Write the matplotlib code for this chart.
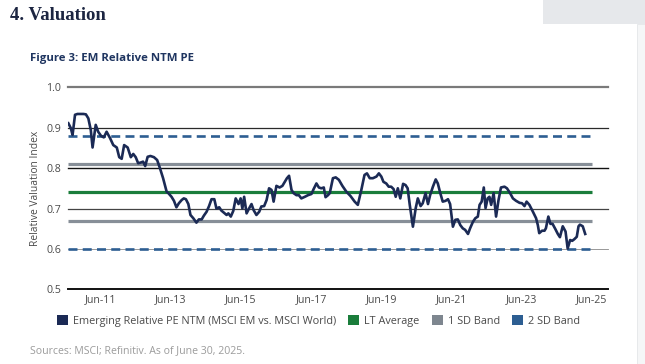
import matplotlib
matplotlib.use("Agg")
import matplotlib.pyplot as plt
from matplotlib.patches import Patch, Rectangle

# ---------------- data ----------------
dates = [
    2010.54, 2010.61, 2010.66, 2010.73, 2010.80, 2010.97, 2011.04, 2011.11, 2011.18, 2011.23,
    2011.32, 2011.39, 2011.47, 2011.55, 2011.63, 2011.73, 2011.82, 2011.92, 2011.99, 2012.06,
    2012.13, 2012.23, 2012.32, 2012.39, 2012.46, 2012.53, 2012.61, 2012.67, 2012.73, 2012.80,
    2012.88, 2012.98, 2013.07, 2013.15, 2013.24, 2013.34, 2013.39, 2013.48, 2013.55, 2013.62,
    2013.69, 2013.77, 2013.83, 2013.89, 2013.96, 2014.02, 2014.10, 2014.19, 2014.26, 2014.34,
    2014.40, 2014.48, 2014.55, 2014.62, 2014.70, 2014.76, 2014.84, 2014.90, 2014.97, 2015.05,
    2015.10, 2015.17, 2015.24, 2015.31, 2015.39, 2015.45, 2015.50, 2015.55, 2015.62, 2015.69,
    2015.76, 2015.82, 2015.90, 2015.98, 2016.04, 2016.12, 2016.19, 2016.26, 2016.33, 2016.39,
    2016.47, 2016.56, 2016.64, 2016.71, 2016.77, 2016.83, 2016.90, 2016.96, 2017.04, 2017.11,
    2017.18, 2017.28, 2017.37, 2017.47, 2017.53, 2017.61, 2017.68, 2017.75, 2017.82, 2017.87,
    2017.94, 2017.99, 2018.08, 2018.16, 2018.25, 2018.35, 2018.46, 2018.58, 2018.70, 2018.79,
    2018.89, 2018.98, 2019.05, 2019.13, 2019.22, 2019.32, 2019.39, 2019.46, 2019.52, 2019.60,
    2019.67, 2019.74, 2019.81, 2019.87, 2019.93, 2020.00, 2020.08, 2020.15, 2020.21, 2020.27,
    2020.36, 2020.44, 2020.50, 2020.58, 2020.64, 2020.72, 2020.79, 2020.85, 2020.93, 2021.01,
    2021.07, 2021.14, 2021.21, 2021.29, 2021.36, 2021.42, 2021.50, 2021.57, 2021.64, 2021.71,
    2021.78, 2021.85, 2021.93, 2021.99, 2022.07, 2022.14, 2022.21, 2022.26, 2022.32, 2022.38,
    2022.43, 2022.49, 2022.54, 2022.59, 2022.66, 2022.73, 2022.80, 2022.87, 2022.97, 2023.04,
    2023.13, 2023.21, 2023.30, 2023.40, 2023.47, 2023.54, 2023.60, 2023.68, 2023.78, 2023.87,
    2023.92, 2023.96, 2024.04, 2024.11, 2024.15, 2024.22, 2024.28, 2024.34, 2024.42, 2024.49,
    2024.55, 2024.63, 2024.71, 2024.77, 2024.84, 2024.90, 2024.96, 2025.03, 2025.08, 2025.12,
    2025.20, 2025.27,
]
em_relative_pe = [
    0.911, 0.899, 0.882, 0.932, 0.934, 0.934, 0.933, 0.923, 0.894, 0.851,
    0.907, 0.890, 0.880, 0.876, 0.890, 0.874, 0.857, 0.851, 0.827, 0.823,
    0.857, 0.851, 0.827, 0.835, 0.827, 0.812, 0.814, 0.816, 0.805, 0.828,
    0.830, 0.827, 0.820, 0.800, 0.775, 0.742, 0.738, 0.729, 0.719, 0.703,
    0.713, 0.721, 0.725, 0.723, 0.711, 0.684, 0.676, 0.665, 0.673, 0.673,
    0.682, 0.692, 0.706, 0.723, 0.723, 0.700, 0.703, 0.695, 0.690, 0.684,
    0.688, 0.680, 0.694, 0.725, 0.711, 0.725, 0.700, 0.729, 0.688, 0.700,
    0.711, 0.696, 0.684, 0.692, 0.705, 0.706, 0.721, 0.750, 0.746, 0.717,
    0.756, 0.752, 0.756, 0.766, 0.775, 0.781, 0.746, 0.738, 0.733, 0.733,
    0.725, 0.729, 0.733, 0.736, 0.748, 0.762, 0.752, 0.750, 0.752, 0.728,
    0.733, 0.738, 0.775, 0.777, 0.771, 0.756, 0.742, 0.731, 0.717, 0.709,
    0.746, 0.783, 0.787, 0.775, 0.775, 0.779, 0.787, 0.779, 0.766, 0.762,
    0.754, 0.754, 0.748, 0.729, 0.750, 0.725, 0.761, 0.758, 0.750, 0.709,
    0.655, 0.701, 0.725, 0.706, 0.713, 0.738, 0.711, 0.733, 0.754, 0.772,
    0.762, 0.738, 0.717, 0.719, 0.723, 0.711, 0.655, 0.672, 0.673, 0.659,
    0.651, 0.647, 0.637, 0.651, 0.667, 0.676, 0.680, 0.709, 0.717, 0.752,
    0.701, 0.725, 0.729, 0.709, 0.738, 0.680, 0.721, 0.752, 0.754, 0.750,
    0.738, 0.725, 0.719, 0.714, 0.713, 0.706, 0.717, 0.709, 0.692, 0.676,
    0.659, 0.639, 0.645, 0.645, 0.651, 0.680, 0.662, 0.662, 0.649, 0.637,
    0.629, 0.656, 0.643, 0.601, 0.622, 0.620, 0.624, 0.630, 0.656, 0.660,
    0.656, 0.637,
]
lt_average = 0.74
sd1_band = [0.67, 0.81]
sd2_band = [0.60, 0.88]
band_span = [2010.54, 2025.46]

tick_years = [2011.46, 2013.46, 2015.46, 2017.46, 2019.46, 2021.46, 2023.46, 2025.46]
tick_labels = ["Jun-11", "Jun-13", "Jun-15", "Jun-17", "Jun-19", "Jun-21", "Jun-23", "Jun-25"]
y_ticks = [0.5, 0.6, 0.7, 0.8, 0.9, 1.0]
y_tick_labels = ["0.5", "0.6", "0.7", "0.8", "0.9", "1.0"]

legend_labels = ["Emerging Relative PE NTM (MSCI EM vs. MSCI World)", "LT Average",
                 "1 SD Band", "2 SD Band"]

# ---------------- style ----------------
NAVY = "#1b2a55"
GREEN = "#1a7d3b"
GRAY = "#878f98"
BLUE = "#2d5e92"
TXT = "#4a4a4a"
body_font = ["Open Sans", "DejaVu Sans"]

fig = plt.figure(figsize=(6.45, 3.64), dpi=100)
fig.patch.set_facecolor("white")

# decorative page elements
fig.patches.append(Rectangle((543 / 645, 1 - 24 / 364), 102 / 645, 24 / 364,
                             transform=fig.transFigure, facecolor="#e6e8eb",
                             edgecolor="none", zorder=0))
fig.patches.append(Rectangle((637 / 645, 0), 8 / 645, 1 - 24 / 364,
                             transform=fig.transFigure, facecolor="#f5f6f7",
                             edgecolor="#e4e6e9", linewidth=0.6, zorder=0))

fig.text(10 / 645, 1 - 15 / 364, "4. Valuation", family=["Liberation Serif", "DejaVu Serif"],
         fontweight="bold", fontsize=13.5, color="#1c2541", va="center", ha="left")
fig.text(30 / 645, 1 - 58 / 364, "Figure 3: EM Relative NTM PE", family=body_font,
         fontweight="bold", fontsize=8.2, color="#1f3560", va="center", ha="left")
fig.text(30 / 645, 1 - 351 / 364, "Sources: MSCI; Refinitiv. As of June 30, 2025.",
         family=body_font, fontsize=7.6, color="#9b9b9b", va="center", ha="left")

ax = fig.add_axes([68 / 645, 1 - 289.3 / 364, 540 / 645, 202 / 364])
ax.set_xlim(2010.53, 2025.92)
ax.set_ylim(0.5, 1.0)
for s in ax.spines.values():
    s.set_visible(False)

# gridlines
grid_style = {1.0: ("#7a7a7a", 1.6), 0.9: ("#2a2a2a", 0.9), 0.8: ("#111111", 1.0),
              0.7: ("#444444", 0.9), 0.6: ("#888888", 0.6), 0.5: ("#111111", 1.4)}
for yv in y_ticks:
    c, lw = grid_style[yv]
    ax.axhline(yv, color=c, lw=lw, zorder=1, clip_on=False)

# bands
ax.plot(band_span, [sd2_band[1]] * 2, color=BLUE, lw=1.9, ls=(0, (3.4, 2.0)), zorder=2)
ax.plot(band_span, [sd2_band[0]] * 2, color=BLUE, lw=1.9, ls=(0, (3.4, 2.0)), zorder=2)
ax.plot(band_span, [sd1_band[1]] * 2, color=GRAY, lw=2.3, zorder=2, solid_capstyle="butt")
ax.plot(band_span, [sd1_band[0]] * 2, color=GRAY, lw=2.3, zorder=2, solid_capstyle="butt")
ax.plot(band_span, [lt_average] * 2, color=GREEN, lw=2.3, zorder=2, solid_capstyle="butt")

ax.plot(dates, em_relative_pe, color=NAVY, lw=1.9, zorder=3, solid_joinstyle="round")

ax.set_xticks(tick_years)
ax.set_xticklabels(tick_labels, family=body_font, fontsize=7.7, color=TXT)
ax.set_yticks(y_ticks)
ax.set_yticklabels(y_tick_labels, family=body_font, fontsize=7.7, color=TXT)
ax.tick_params(axis="both", length=0)
ax.tick_params(axis="x", pad=3.5)
ax.tick_params(axis="y", pad=5)
ax.set_ylabel("Relative Valuation Index", family=body_font, fontsize=7.4, color=TXT, labelpad=4)

handles = [Patch(facecolor=NAVY), Patch(facecolor=GREEN), Patch(facecolor="#7e868f"),
           Patch(facecolor=BLUE)]
leg = fig.legend(handles, legend_labels, ncol=4, loc="center left",
                 bbox_to_anchor=(57 / 645, 1 - 321 / 364), frameon=False,
                 prop={"family": body_font, "size": 7.8}, handlelength=1.0,
                 handleheight=1.1, handletextpad=0.45, columnspacing=1.15,
                 borderaxespad=0, borderpad=0)
for t in leg.get_texts():
    t.set_color(TXT)

fig.savefig("out.png", dpi=100, facecolor="white")
